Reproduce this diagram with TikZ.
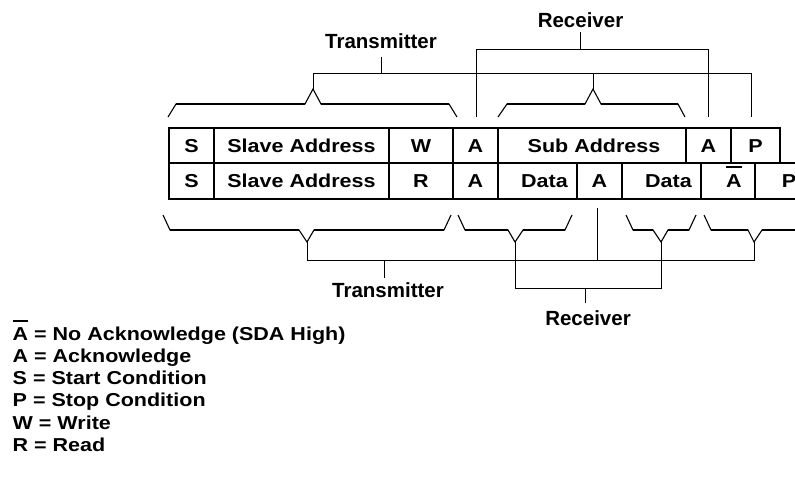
\documentclass[tikz,border=0pt]{standalone}
\usepackage{fontspec}
\setmainfont{Liberation Sans}
\newfontfamily\cf{Liberation Sans}[FakeStretch=1.15]
\begin{document}
\begin{tikzpicture}[x=1pt,y=-1pt,
  cell/.style={draw,line width=1.8pt,inner sep=0pt,outer sep=0pt,
    text height=13.4pt,text depth=0pt,
    font=\cf\bfseries\fontsize{18.7}{22}\selectfont},
  r1/.style={cell,minimum height=35pt},
  r2/.style={cell,minimum height=36pt},
  legend/.style={anchor=base west,inner sep=0pt,
    font=\cf\bfseries\fontsize{18.7}{22}\selectfont},
  lbl/.style={anchor=base,inner sep=0pt,font=\bfseries\fontsize{20.5}{24}\selectfont},
  bthin/.style={line width=1.1pt,line join=miter},
  bthick/.style={line width=2.3pt,line cap=butt},
  conn/.style={line width=1pt}]
\clip (0,0) rectangle (795,479);
\fill[white] (0,0) rectangle (795,479);

% ---- row 1 (write) ----
\node[r1,minimum width=45pt]  (a1) at (191.5,145.5) {S};
\node[r1,minimum width=175pt] (a2) at (301.5,145.5) {Slave Address};
\node[r1,minimum width=64pt]  (a3) at (421,145.5) {W};
\node[r1,minimum width=45pt]  (a4) at (475.5,145.5) {A};
\node[r1,minimum width=188pt] (a5) at (592,145.5) {\hspace*{4pt}Sub Address};
\node[r1,minimum width=45pt]  (a6) at (708.5,145.5) {A};
\node[r1,minimum width=49pt]  (a7) at (755.5,145.5) {P};

% ---- row 2 (read) ----
\node[r2,minimum width=45pt]  (c1) at (191.5,181) {S};
\node[r2,minimum width=175pt] (c2) at (301.5,181) {Slave Address};
\node[r2,minimum width=64pt]  (c3) at (421,181) {R};
\node[r2,minimum width=45pt]  (c4) at (475.5,181) {A};
\node[r2,minimum width=79pt]  (c5) at (537.5,181) {\hspace*{14pt}Data};
\node[r2,minimum width=45pt]  (c6) at (599.5,181) {A};
\node[r2,minimum width=79pt]  (c7) at (661.5,181) {\hspace*{14pt}Data};
\node[r2,minimum width=54pt]  (c8) at (728,181) {\hspace*{12pt}\makebox[0pt][l]{\rule[19.5pt]{15.5pt}{2pt}}A};
\node[r2,minimum width=68pt]  (c9) at (789,181) {P};

% ---- labels ----
\node[lbl] (tT) at (381,48.3) {Transmitter};
\node[lbl] (tR) at (580.5,27.3) {Receiver};
\node[lbl] (bT) at (388,297) {Transmitter};
\node[lbl] (bR) at (588,325.5) {Receiver};

% ---- upper braces ----
\draw[bthin] (168,117) -- (176,104) -- (305,104) -- (313,89) -- (321,104) -- (449,104) -- (457,117);
\draw[bthick] (176,104) -- (305,104) (321,104) -- (449,104);
\draw[bthin] (498,117) -- (507,104) -- (585,104) -- (593,89) -- (601,104) -- (678,104) -- (685,117);
\draw[bthick] (507,104) -- (585,104) (601,104) -- (678,104);

% ---- lower braces ----
\draw[bthin] (163,215) -- (170,230) -- (299,230) -- (307,242) -- (314,230) -- (444,230) -- (451,215);
\draw[bthick] (170,230) -- (299,230) (314,230) -- (444,230);
\draw[bthin] (458,215) -- (465,230) -- (508,230) -- (515,242) -- (523,230) -- (565,230) -- (572,215);
\draw[bthick] (465,230) -- (508,230) (523,230) -- (565,230);
\draw[bthin] (626,215) -- (633,230) -- (653,230) -- (661,242) -- (668,230) -- (689,230) -- (696,215);
\draw[bthick] (633,230) -- (653,230) (668,230) -- (689,230);
\draw[bthin] (704,215) -- (711,230) -- (748,230) -- (754,242) -- (762,230) -- (800,230);
\draw[bthick] (711,230) -- (748,230) (762,230) -- (800,230);

% ---- connector coordinates ----
\coordinate (p1) at (313,89);
\coordinate (p2) at (593,89);
\coordinate (tTs) at (381,57);
\coordinate (tTj) at (381,73);
\coordinate (a7t) at (751,117);
\coordinate (a4t) at (476,117);
\coordinate (a6t) at (708,117);
\coordinate (tRs) at (580.5,32);
\coordinate (tRj) at (580.5,49);
\coordinate (p3) at (307,242);
\coordinate (p4) at (515,242);
\coordinate (p5) at (661,242);
\coordinate (p6) at (754,242);
\coordinate (c6b) at (597,208);
\coordinate (bTs) at (384,278);
\coordinate (bTj) at (384,260);
\coordinate (bRs) at (585,303);
\coordinate (bRj) at (585,288);

% ---- top transmitter ----
\draw[conn] (tTs) -- (tTj);
\draw[conn] (p1) -- (p1 |- tTj) -- (a7t |- tTj) -- (a7t);
\draw[conn] (p2) -- (p2 |- tTj);
% ---- top receiver ----
\draw[conn] (tRs) -- (tRj);
\draw[conn] (a4t) -- (a4t |- tRj) -- (a6t |- tRj) -- (a6t);
% ---- bottom transmitter ----
\draw[conn] (bTs) -- (bTj);
\draw[conn] (p3) -- (p3 |- bTj) -- (p6 |- bTj) -- (p6);
\draw[conn] (c6b) -- (c6b |- bTj);
% ---- bottom receiver ----
\draw[conn] (bRs) -- (bRj);
\draw[conn] (p4) -- (p4 |- bRj) -- (p5 |- bRj) -- (p5);

% ---- legend ----
\node[legend] (l1) at (12.5,340) {\makebox[0pt][l]{\rule[18pt]{15.5pt}{2pt}}A = No Acknowledge (SDA High)};
\node[legend] (l2) at (12.5,362.3) {A = Acknowledge};
\node[legend] (l3) at (12.5,384.6) {S = Start Condition};
\node[legend] (l4) at (12.5,406.9) {P = Stop Condition};
\node[legend] (l5) at (12.5,429.2) {W = Write};
\node[legend] (l6) at (12.5,451.5) {R = Read};
\end{tikzpicture}
\end{document}
